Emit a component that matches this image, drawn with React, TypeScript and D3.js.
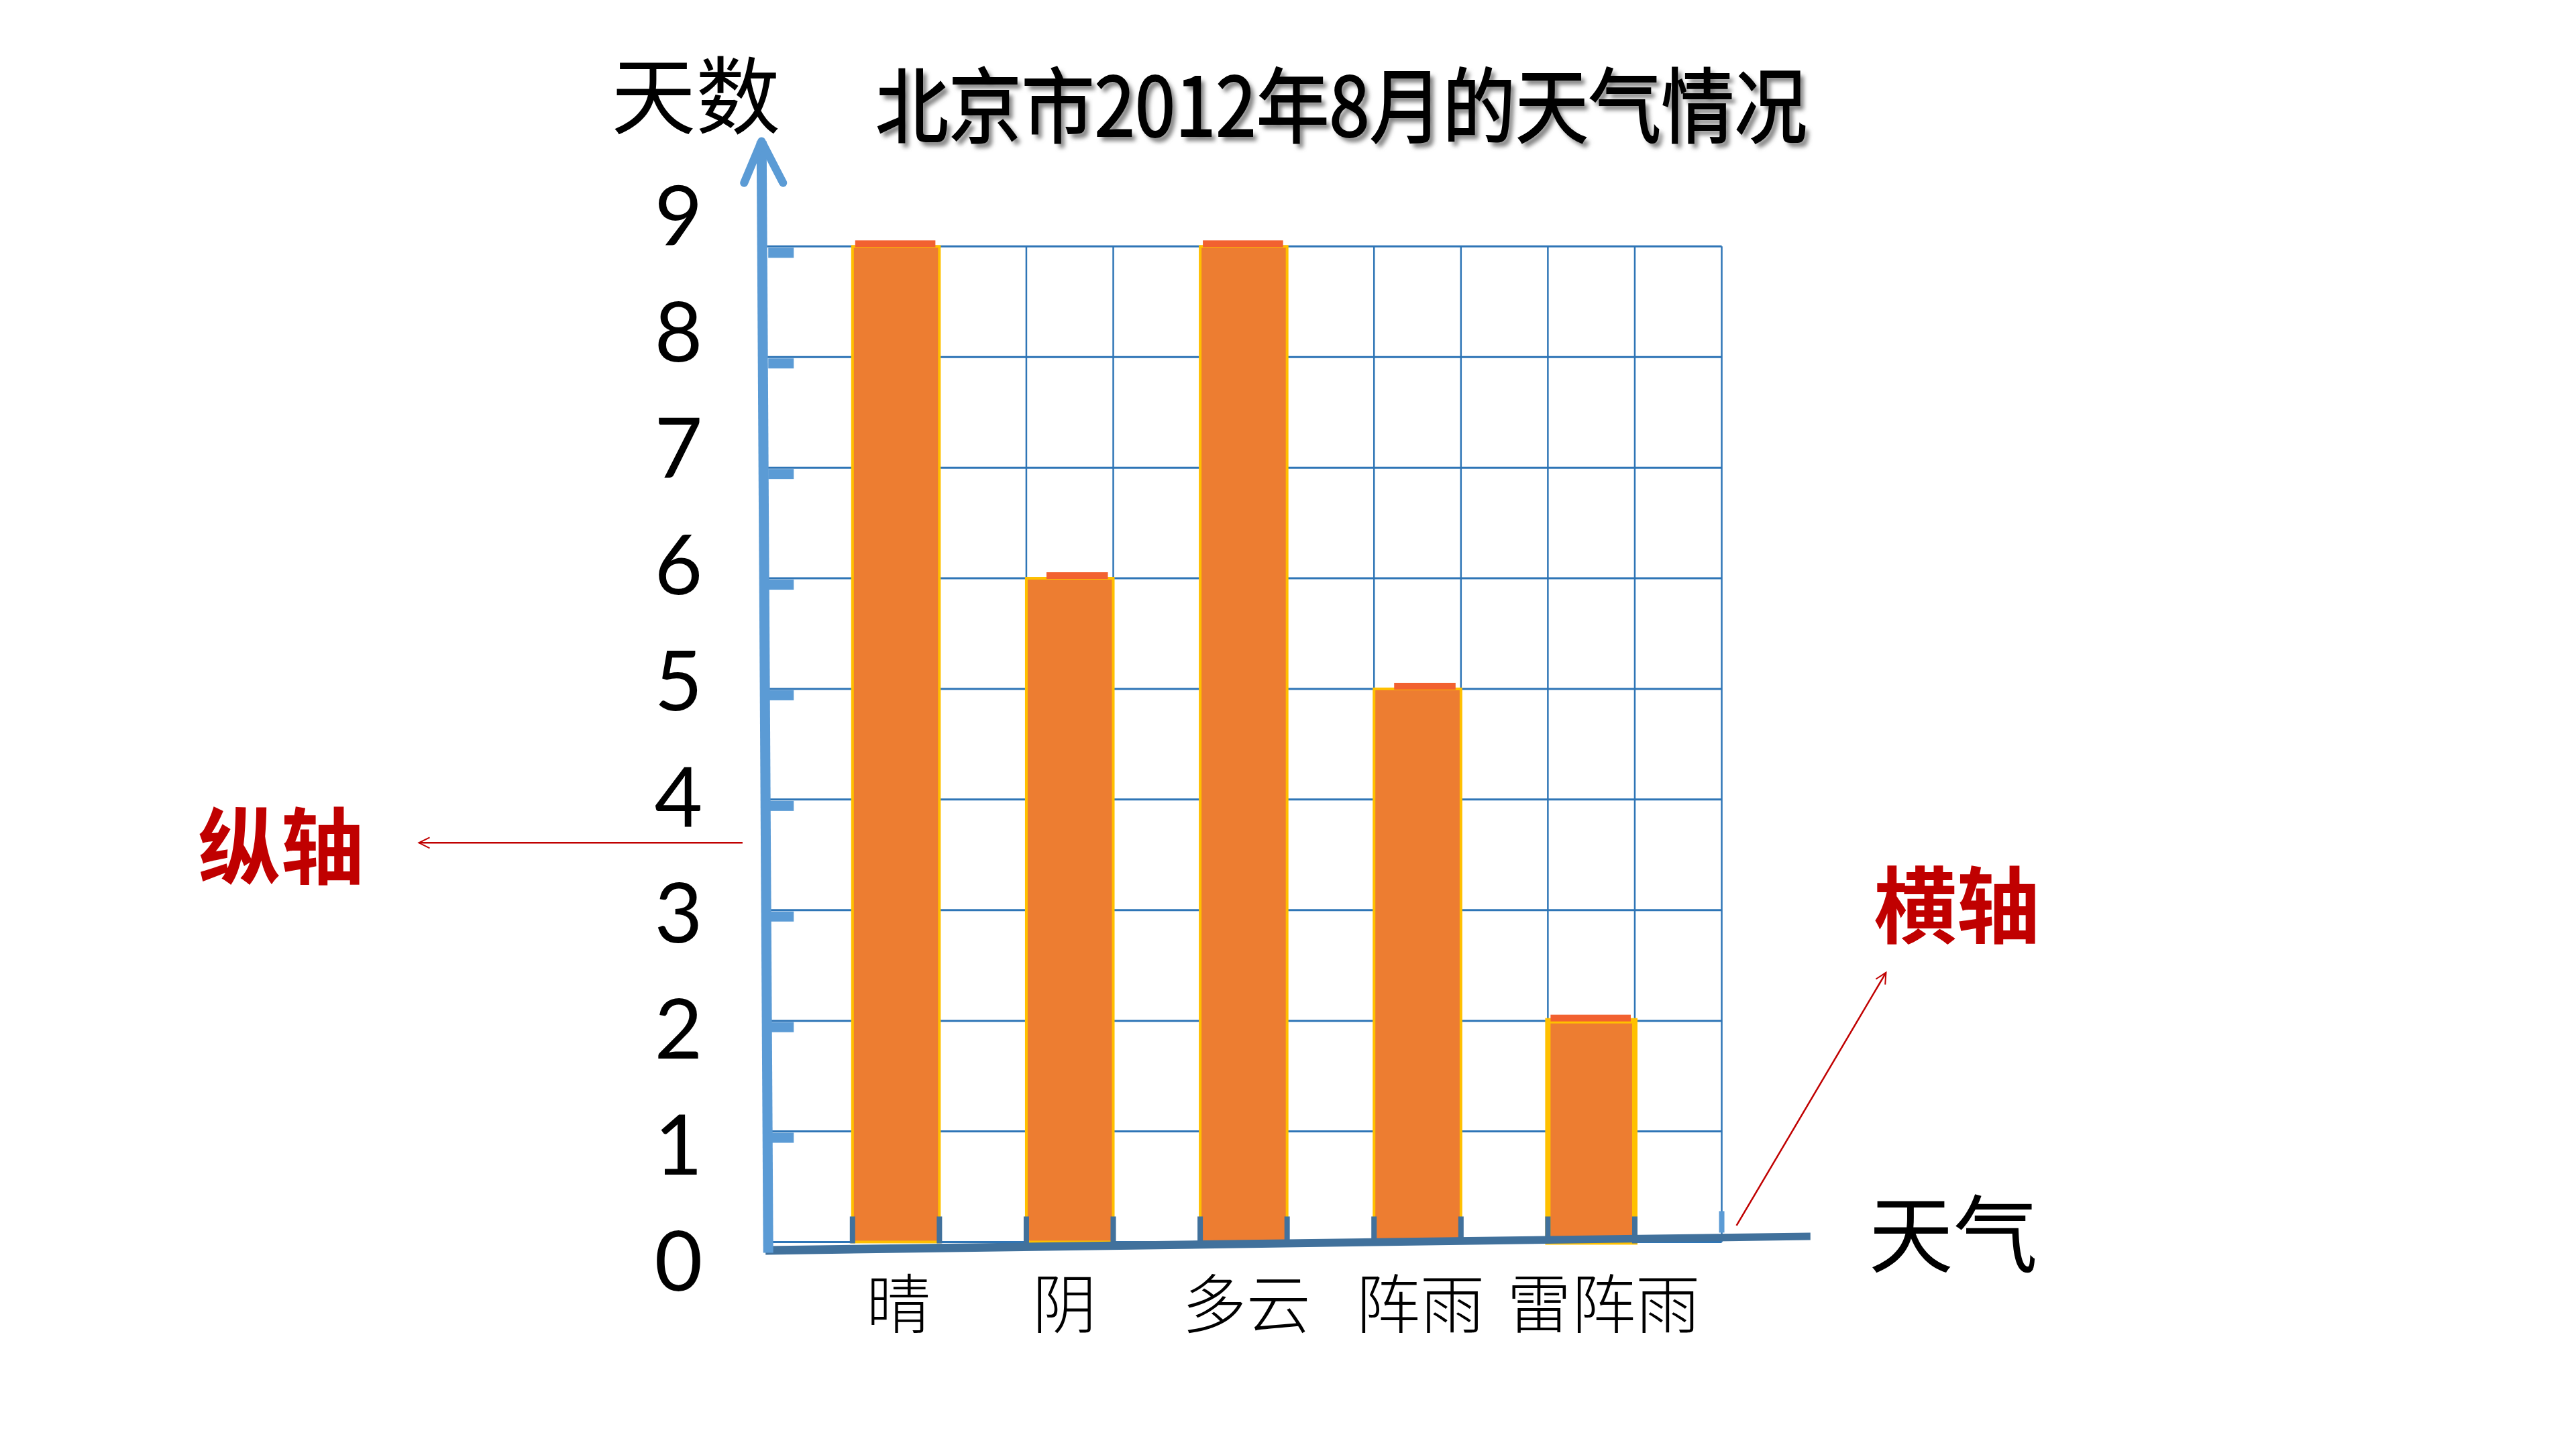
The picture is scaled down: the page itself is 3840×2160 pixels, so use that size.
import React from 'react';
import * as d3 from 'd3';

const categories = ['晴', '阴', '多云', '阵雨', '雷阵雨'];
const days = [9, 6, 9, 5, 2];
const yTicks = [0, 1, 2, 3, 4, 5, 6, 7, 8, 9];
const titleText = '北京市2012年8月的天气情况';
const yAxisTitle = '天数';
const xAxisTitle = '天气';
const yNote = '纵轴';
const xNote = '横轴';

const W = 3840;
const H = 2160;
const S = 3840 / 1568;

const CJK = '"Noto Sans CJK SC", sans-serif';

export default function App() {
  const x = d3
    .scaleBand<string>()
    .domain(categories)
    .range([466 * S, 1048 * S])
    .paddingInner(0.5)
    .paddingOuter(0.5);
  const y = d3.scaleLinear().domain([0, 9]).range([756 * S, 150 * S]);
  const yLab = d3.scaleLinear().domain([0, 9]).range([766 * S, 130 * S]);
  const bw = x.bandwidth();
  const [x0, x1] = x.range();
  const vLines = [...categories.flatMap((c) => [x(c)!, x(c)! + bw]), x1];

  const axisBlue = '#5B9BD5';
  const gridBlue = '#2E75B6';
  const darkBlue = '#41719C';
  const red = '#C00000';

  const yAxisX = x0 + 2;
  const arrowTipY = 86 * S;

  return (
    <svg
      width={W}
      height={H}
      viewBox={`0 0 ${W} ${H}`}
      style={{ position: 'absolute', left: 0, top: 0, background: '#fff' }}
    >
      <defs>
        <filter id="blur" x="-5%" y="-20%" width="110%" height="140%">
          <feGaussianBlur stdDeviation="3" />
        </filter>
        <marker id="arrowRed" viewBox="0 0 20 20" refX="18" refY="10" markerWidth="20" markerHeight="20" markerUnits="userSpaceOnUse" orient="auto">
          <path d="M2,2 L18,10 L2,18" fill="none" stroke={red} strokeWidth="2" />
        </marker>
      </defs>
      <rect width={W} height={H} fill="#fff" />

      {/* title */}
      <g fontFamily={CJK} fontSize={122} dominantBaseline="central">
        <text x={533 * S + 6} y={61 * S + 7} fill="#808080" filter="url(#blur)" textLength={567 * S} lengthAdjust="spacingAndGlyphs">
          {titleText}
        </text>
        <text x={533 * S} y={61 * S} fill="#000" textLength={567 * S} lengthAdjust="spacingAndGlyphs" stroke="#000" strokeWidth={2}>
          {titleText}
        </text>
      </g>

      {/* y axis title */}
      <text x={423.5 * S} y={55 * S} fontFamily={CJK} fontSize={126} textAnchor="middle" dominantBaseline="central" fill="#000">
        {yAxisTitle}
      </text>

      {/* grid horizontal */}
      {yTicks.map((t) => (
        <line key={'h' + t} x1={yAxisX} x2={x1} y1={y(t)} y2={y(t)} stroke={gridBlue} strokeWidth={3} />
      ))}
      {/* grid vertical */}
      {vLines.map((vx, i) => (
        <line key={'v' + i} x1={vx} x2={vx} y1={y(9)} y2={y(0)} stroke={gridBlue} strokeWidth={2.5} />
      ))}

      {/* bars */}
      {categories.map((c, i) => {
        const last = i === categories.length - 1;
        const sw = last ? 8 : 4;
        return (
          <g key={c}>
            <rect
              x={x(c)!}
              y={y(days[i])}
              width={bw}
              height={y(0) - y(days[i])}
              fill="#ED7D31"
              stroke="#FFC000"
              strokeWidth={sw}
            />
            <rect x={x(c)! + (i % 2 === 1 ? 30 : 4)} y={y(days[i]) - 9} width={bw - (i % 2 === 1 ? 38 : 10)} height={10} fill="#F26130" />
          </g>
        );
      })}

      {/* x axis ticks */}
      {vLines.slice(0, -1).map((vx, i) => (
        <rect key={'xt' + i} x={vx - 4} y={y(0) - 38} width={8} height={40} fill={darkBlue} />
      ))}
      <rect x={x1 - 4} y={y(0) - 46} width={8} height={32} fill={axisBlue} />

      {/* x axis */}
      <polygon
        points={`${x0},${y(0) + 6} ${1102 * S},${y(0) - 14} ${1102 * S},${y(0) - 3} ${x0},${y(0) + 19}`}
        fill={darkBlue}
      />

      {/* y axis */}
      <line x1={x0 + 4} y1={y(0) + 16} x2={x0 - 6} y2={arrowTipY} stroke={axisBlue} strokeWidth={15} />
      <polyline
        points={`${x0 - 32},${arrowTipY + 62} ${x0 - 6},${arrowTipY} ${x0 + 26},${arrowTipY + 62}`}
        fill="none"
        stroke={axisBlue}
        strokeWidth={12}
        strokeLinecap="round"
        strokeLinejoin="round"
      />
      {yTicks.slice(1).map((t) => (
        <rect key={'yt' + t} x={x0 + 4} y={y(t) + 2} width={38} height={15} fill={axisBlue} />
      ))}

      {/* y tick labels */}
      {yTicks.map((t) => (
        <text
          key={'yl' + t}
          x={413 * S}
          y={yLab(t)}
          fontFamily="Lato, 'Open Sans', sans-serif"
          fontSize={124}
          textAnchor="middle"
          dominantBaseline="central"
          fill="#000"
        >
          {t}
        </text>
      ))}

      {/* category labels */}
      {categories.map((c, i) => (
        <text
          key={'cl' + c}
          x={x(c)! + bw / 2 + (i === 4 ? 18 : i === 1 ? -8 : 4)}
          y={791 * S}
          fontFamily={CJK}
          fontSize={96}
          fontWeight={300}
          textAnchor="middle"
          dominantBaseline="central"
          fill="#000"
        >
          {c}
        </text>
      ))}

      {/* x axis title */}
      <text x={1189 * S} y={748 * S} fontFamily={CJK} fontSize={126} textAnchor="middle" dominantBaseline="central" fill="#000">
        {xAxisTitle}
      </text>

      {/* annotations */}
      <text x={171 * S} y={512 * S} fontFamily={CJK} fontSize={124} fontWeight={700} textAnchor="middle" dominantBaseline="central" fill={red}>
        {yNote}
      </text>
      <line x1={452 * S} y1={513 * S} x2={255 * S} y2={513 * S} stroke={red} strokeWidth={2.5} markerEnd="url(#arrowRed)" />

      <text x={1191 * S} y={548 * S} fontFamily={CJK} fontSize={124} fontWeight={700} textAnchor="middle" dominantBaseline="central" fill={red}>
        {xNote}
      </text>
      <line x1={1057 * S} y1={746 * S} x2={1148 * S} y2={592 * S} stroke={red} strokeWidth={2.5} markerEnd="url(#arrowRed)" />
    </svg>
  );
}
